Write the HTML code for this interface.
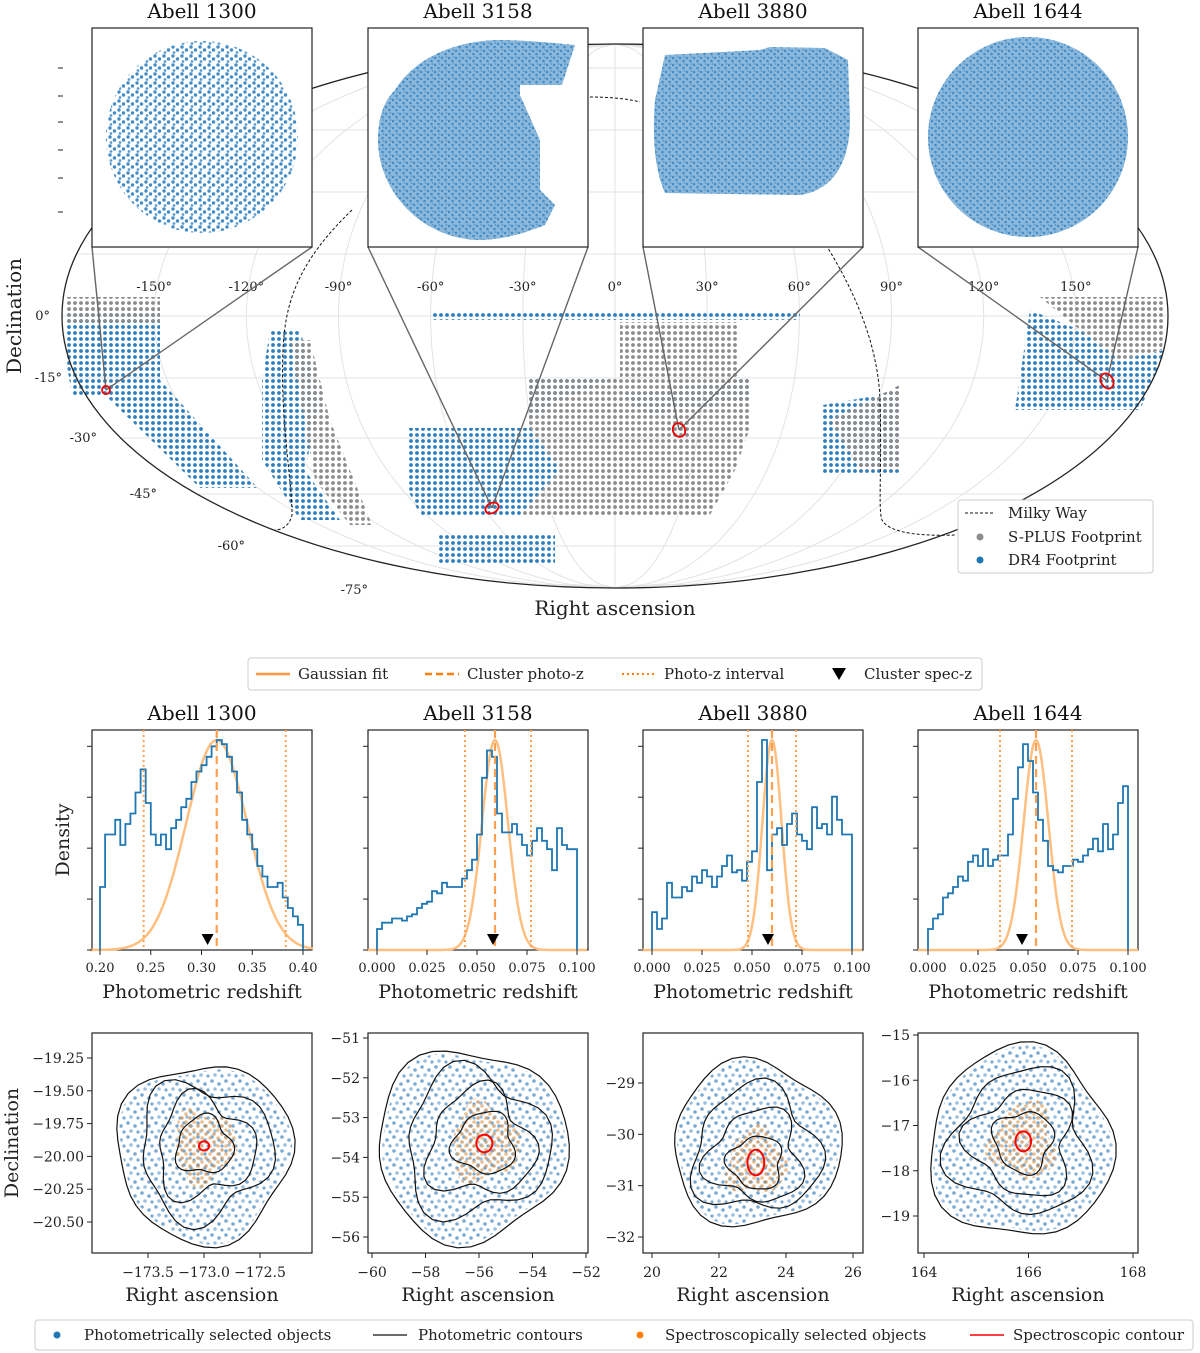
<!DOCTYPE html>
<html><head><meta charset="utf-8">
<style>
html,body{margin:0;padding:0;background:#fff}
svg{display:block;font-family:"DejaVu Serif","Liberation Serif",serif}
</style></head>
<body>
<svg id="fig" width="1200" height="1353" viewBox="0 0 1200 1353" xmlns="http://www.w3.org/2000/svg">
<defs>
<pattern id="pBlue" width="6" height="6" patternUnits="userSpaceOnUse"><circle cx="3" cy="3" r="1.9" fill="#2f7fbf"/></pattern>
<pattern id="pGray" width="6" height="6" patternUnits="userSpaceOnUse"><circle cx="3" cy="3" r="1.9" fill="#8c8c8c"/></pattern>
<pattern id="pDense" width="7" height="7" patternUnits="userSpaceOnUse"><rect width="7" height="7" fill="#7fb0d8"/><circle cx="1" cy="2" r="1.3" fill="#2f7fbf"/><circle cx="4.5" cy="5" r="1.3" fill="#2f7fbf"/><circle cx="5.5" cy="1" r="1" fill="#4a90c8"/></pattern>
<pattern id="pSparse" width="9" height="9" patternUnits="userSpaceOnUse"><circle cx="2" cy="2" r="1.7" fill="#2f7fbf"/><circle cx="6.5" cy="5" r="1.7" fill="#2f7fbf"/><circle cx="3" cy="7.5" r="1.4" fill="#4a90c8"/></pattern>
<pattern id="pScat" width="14" height="14" patternUnits="userSpaceOnUse"><circle cx="2" cy="3" r="1.8" fill="#7aaad2"/><circle cx="9" cy="6" r="1.8" fill="#7aaad2"/><circle cx="5" cy="11" r="1.8" fill="#9bbfdf"/><circle cx="12" cy="12" r="1.6" fill="#7aaad2"/></pattern>
<pattern id="pOrange" width="8" height="8" patternUnits="userSpaceOnUse"><circle cx="2" cy="2" r="1.8" fill="#e6a25a"/><circle cx="6" cy="6" r="1.8" fill="#c98a50"/></pattern>
</defs>
<g id="map"></g>
<g id="hists"></g>
<g id="scats"></g>
</svg>
<script>
const NS="http://www.w3.org/2000/svg";
function mk(parent,tag,attrs,text){const e=document.createElementNS(NS,tag);for(const k in attrs)e.setAttribute(k,attrs[k]);if(text!==undefined)e.textContent=text;parent.appendChild(e);return e;}

// ---------- Data ----------
const clusterNames=["Abell 1300","Abell 3158","Abell 3880","Abell 1644"];
const raTicks=[-150,-120,-90,-60,-30,0,30,60,90,120,150];
const decTicks=[0,-15,-30,-45,-60,-75];
const decTickY=[316,378,438,494,546,590];
const decLabelX=[50,62,97,157,245,368];
const histStart=[0.20,0.0,0.0,0.0];
const histBinW=[0.005,0.0025,0.0025,0.0025];
const hist1300=[0.30,0.55,0.55,0.62,0.50,0.60,0.65,0.75,0.86,0.70,0.55,0.50,0.55,0.48,0.58,0.62,0.68,0.72,0.80,0.85,0.88,0.92,0.97,1.0,0.98,0.92,0.85,0.75,0.62,0.55,0.48,0.40,0.35,0.30,0.30,0.32,0.25,0.20,0.16,0.12];
const hist3158=[0.10,0.13,0.13,0.15,0.15,0.14,0.16,0.17,0.20,0.22,0.23,0.28,0.27,0.32,0.30,0.30,0.30,0.34,0.38,0.43,0.55,0.82,0.95,0.92,0.65,0.56,0.56,0.60,0.55,0.50,0.45,0.52,0.58,0.52,0.48,0.38,0.58,0.50,0.48,0.48];
const hist3880=[0.18,0.10,0.15,0.32,0.25,0.25,0.30,0.28,0.35,0.32,0.38,0.35,0.30,0.35,0.40,0.45,0.37,0.38,0.33,0.42,0.47,0.80,1.0,0.38,0.55,0.58,0.50,0.60,0.65,0.55,0.52,0.48,0.68,0.58,0.60,0.55,0.73,0.62,0.55,0.55];
const hist1644=[0.10,0.15,0.17,0.25,0.27,0.30,0.35,0.33,0.42,0.45,0.40,0.48,0.40,0.43,0.45,0.45,0.55,0.72,0.87,0.98,0.90,0.75,0.62,0.52,0.40,0.38,0.37,0.40,0.40,0.43,0.42,0.45,0.48,0.53,0.47,0.60,0.48,0.55,0.70,0.78];
const gaussMean=[0.315,0.059,0.060,0.054];
const gaussSigma=[0.030,0.0065,0.0048,0.0062];
const intervalLo=[0.243,0.044,0.048,0.036];
const intervalHi=[0.383,0.077,0.072,0.072];
const specZ=[0.306,0.058,0.058,0.047];
const histXTicks=[[0.20,0.25,0.30,0.35,0.40],[0,0.025,0.05,0.075,0.1],[0,0.025,0.05,0.075,0.1],[0,0.025,0.05,0.075,0.1]];
const histXLabels=[["0.20","0.25","0.30","0.35","0.40"],["0.000","0.025","0.050","0.075","0.100"],["0.000","0.025","0.050","0.075","0.100"],["0.000","0.025","0.050","0.075","0.100"]];
const scXTicks=[[-173.5,-173.0,-172.5],[-60,-58,-56,-54,-52],[20,22,24,26],[164,166,168]];
const scXLabels=[["−173.5","−173.0","−172.5"],["−60","−58","−56","−54","−52"],["20","22","24","26"],["164","166","168"]];
const scYTicks=[[-19.25,-19.5,-19.75,-20.0,-20.25,-20.5],[-51,-52,-53,-54,-55,-56],[-29,-30,-31,-32],[-15,-16,-17,-18,-19]];
const scYLabels=[["−19.25","−19.50","−19.75","−20.00","−20.25","−20.50"],["−51","−52","−53","−54","−55","−56"],["−29","−30","−31","−32"],["−15","−16","−17","−18","−19"]];
const cloudRA=[-173.0,-56.3,23.1,165.85];
const cloudDec=[-19.97,-53.69,-30.2,-17.4];
const outerRadius=[[0.78,0.68],[3.55,2.4],[2.5,1.6],[1.75,2.1]];
const clusterRA=[-173.0,-55.8,23.1,165.9];
const clusterDec=[-19.92,-53.65,-30.55,-17.35];
const specRadius=[[0.045,0.035],[0.3,0.22],[0.25,0.25],[0.15,0.22]];

const panelX=[92,368,643,918];
const panelW=220;
const scXCal=[[-173.5,148,-172.5,260],[-60,372,-52,586],[20,652,26,853],[164,924,168,1133]];
const scYCal=[[-19.25,1058,-20.5,1222],[-51,1038,-56,1237],[-29,1083,-32,1237],[-15,1035,-19,1216]];
const histXCal=[[0.2,100,0.4,303],[0,377,0.1,577],[0,652,0.1,852],[0,928,0.1,1128]];

// ---------- Sky map ----------
const map=document.getElementById('map');
const cx=615,cy=316,rx=553,ry=272;
function decY(d){
  if(d>=0) return cy-(decTickY[1]-cy)*d/15;
  for(let i=0;i<decTicks.length-1;i++){if(d<=decTicks[i]&&d>=decTicks[i+1]){const t=(decTicks[i]-d)/15;return decTickY[i]+t*(decTickY[i+1]-decTickY[i]);}}
  return decTickY[5];
}
function halfW(y){const t=(y-cy)/ry;return t*t>=1?0:rx*Math.sqrt(1-t*t);}
function raX(ra,y){return cx+ra/180*halfW(y);}
for(const ra of [-150,-120,-90,-60,-30,0,30,60,90,120,150]){
  let d="";for(let y=cy-ry;y<=cy+ry;y+=4){d+=(d?"L":"M")+raX(ra,y).toFixed(1)+","+y;}
  const g=mk(map,'path',{d:d,fill:'none',stroke:'#e3e3e3','stroke-width':1});
  
}
for(let k=-75;k<=75;k+=15){const y=k<=0?decY(k):cy-(decTickY[1]-cy)*k/15;const w=halfW(y);
  const l=mk(map,'line',{x1:cx-w,x2:cx+w,y1:y,y2:y,stroke:'#e3e3e3','stroke-width':1});
  }
const grayPolys=[
 "66,297 160,297 160,322 66,322",
 "620,322 737,322 737,378 620,378",
 "527,378 750,378 750,428 527,428",
 "530,428 750,428 735,470 710,515 520,515 560,470",
 "290,340 310,340 330,420 350,470 372,525 350,525 315,480",
 "830,420 900,385 900,470 860,470",
 "1040,297 1165,297 1162,350 1120,360 1080,330"
];
const bluePolys=[
 "66,310 160,310 160,380 258,488 200,488 105,395 72,395 66,360",
 "432,313 800,313 800,320 432,320",
 "408,428 530,428 560,470 520,515 420,515 408,490",
 "527,378 620,378 560,400 527,420",
 "620,395 750,378 750,400 650,415",
 "437,535 555,535 555,565 437,565",
 "270,330 300,330 320,400 305,470 340,520 300,520 262,460 262,380",
 "823,405 880,395 900,385 900,475 823,475",
 "1030,310 1080,330 1120,360 1165,350 1140,410 1015,410"
];
for(const p of bluePolys){const e=mk(map,'polygon',{points:p,fill:'url(#pBlue)'});}
for(const p of grayPolys){const e=mk(map,'polygon',{points:p,fill:'url(#pGray)'});}
const bd=mk(map,'ellipse',{cx:cx,cy:cy,rx:rx,ry:ry,fill:'none',stroke:'#222','stroke-width':1.3});

const mw=mk(map,'path',{d:"M352,210 C300,260 285,300 283,350 C280,420 292,480 292,515 C290,525 282,530 275,530 M590,97 C605,97 625,98 640,102 M815,228 C850,280 878,340 880,400 C882,470 878,510 882,520 C890,535 930,536 955,535",fill:'none',stroke:'#111','stroke-width':1,'stroke-dasharray':'3,2'});

raTicks.forEach((ra)=>{const x=raX(ra,cy);const t=mk(map,'text',{x:x,y:291,'font-size':13,'text-anchor':'middle',fill:'#222'},(ra<0?"-":"")+Math.abs(ra)+"°");
 });
decTicks.forEach((d,i)=>{const y=decTickY[i];const t=mk(map,'text',{x:decLabelX[i],y:y+4,'font-size':13,'text-anchor':'end',fill:'#222'},(d<0?"-":"")+Math.abs(d)+"°");
 });
let t=mk(map,'text',{x:0,y:0,'font-size':20,'text-anchor':'middle',transform:'translate(21,316) rotate(-90)',fill:'#222'},"Declination");
t=mk(map,'text',{x:615,y:615,'font-size':20,'text-anchor':'middle',fill:'#222'},"Right ascension");
for(const y of [68,96,122,150,178,212]){const l=mk(map,'line',{x1:58,x2:63,y1:y,y2:y,stroke:'#222'});}
const markerPx=[[106,390],[492,508],[679,430],[1107,381]];
const markerR=[[4,4],[7,5],[6,7],[6,8]];
for(let i=0;i<4;i++){
  const x0=panelX[i],[mx,my]=markerPx[i];
  for(const xx of [x0,x0+panelW]){const l=mk(map,'line',{x1:xx,y1:247,x2:mx,y2:my,stroke:'#666','stroke-width':1.4});}
  const e=mk(map,'ellipse',{cx:mx,cy:my,rx:markerR[i][0],ry:markerR[i][1],fill:'none',stroke:'#e00','stroke-width':1.8,transform:`rotate(-30 ${mx} ${my})`});
  
}
const insetShapes=[
 {tag:'circle',a:{cx:202,cy:137,r:96},fill:'url(#pSparse)'},
 {tag:'path',a:{d:"M395,90 C420,50 470,40 500,40 C520,40 545,42 575,45 L562,85 L520,85 L520,95 L540,140 L540,190 L555,205 L545,225 C520,235 500,240 478,240 C420,238 378,190 378,140 C378,115 385,100 395,90 Z"},fill:'url(#pDense)'},
 {tag:'path',a:{d:"M665,55 L760,50 L770,47 L825,48 L848,60 L850,120 C850,160 835,190 800,195 L665,193 C655,170 652,140 655,100 Z"},fill:'url(#pDense)'},
 {tag:'circle',a:{cx:1028,cy:137,r:100},fill:'url(#pDense)'}
];
for(let i=0;i<4;i++){
  const x0=panelX[i];
  const bg=mk(map,'rect',{x:x0,y:28,width:panelW,height:219,fill:'#fff',stroke:'#222','stroke-width':1.2});
  
  const s=insetShapes[i];const a=Object.assign({},s.a,{fill:s.fill,opacity:0.9});
  const sh=mk(map,s.tag,a);
  const tt=mk(map,'text',{x:x0+110,y:18,'font-size':20,'text-anchor':'middle',fill:'#111'},clusterNames[i]);
  
}
const ml=mk(map,'g',{});
mk(ml,'rect',{x:958,y:500,width:195,height:73,fill:'#fff',stroke:'#ccc',rx:3});
mk(ml,'line',{x1:965,x2:995,y1:513,y2:513,stroke:'#111','stroke-dasharray':'3,2'});
mk(ml,'circle',{cx:980,cy:537,r:3.5,fill:'#8c8c8c'});
mk(ml,'circle',{cx:980,cy:560,r:3.5,fill:'#1f77b4'});
mk(ml,'text',{x:1008,y:518,'font-size':15,fill:'#222'},"Milky Way");
mk(ml,'text',{x:1008,y:542,'font-size':15,fill:'#222'},"S-PLUS Footprint");
mk(ml,'text',{x:1008,y:565,'font-size':15,fill:'#222'},"DR4 Footprint");

// ---------- Histograms ----------
const H=document.getElementById('hists');
const hl=mk(H,'g',{});
mk(hl,'rect',{x:248,y:658,width:734,height:32,fill:'#fff',stroke:'#ccc',rx:3});
mk(hl,'line',{x1:256,x2:290,y1:674,y2:674,stroke:'#ff7f0e','stroke-width':2.5,opacity:0.8});
mk(hl,'text',{x:298,y:679,'font-size':15,fill:'#222'},"Gaussian fit");
mk(hl,'line',{x1:425,x2:459,y1:674,y2:674,stroke:'#ff7f0e','stroke-width':2.5,'stroke-dasharray':'7,4'});
mk(hl,'text',{x:467,y:679,'font-size':15,fill:'#222'},"Cluster photo-z");
mk(hl,'line',{x1:622,x2:656,y1:674,y2:674,stroke:'#ff7f0e','stroke-width':2,'stroke-dasharray':'2,3'});
mk(hl,'text',{x:664,y:679,'font-size':15,fill:'#222'},"Photo-z interval");
mk(hl,'path',{d:"M832,668 L846,668 L839,680 Z",fill:'#000'});
mk(hl,'text',{x:864,y:679,'font-size':15,fill:'#222'},"Cluster spec-z");
const histData=[hist1300,hist3158,hist3880,hist1644];
const hTop=730,hBot=950,hScale=210;
for(let i=0;i<4;i++){
  const c=histXCal[i];const X=v=>c[1]+(v-c[0])/(c[2]-c[0])*(c[3]-c[1]);const Y=f=>hBot-f*hScale;
  const x0=panelX[i];
  const g=mk(H,'g',{});
  mk(g,'rect',{x:x0,y:hTop,width:panelW,height:hBot-hTop,fill:'none',stroke:'#222','stroke-width':1.2});
  let d="";const lo=c[0]-(c[2]-c[0])*0.05,hi=c[2]+(c[2]-c[0])*0.05;
  for(let k=0;k<=200;k++){const v=lo+(hi-lo)*k/200;const f=Math.exp(-0.5*((v-gaussMean[i])/gaussSigma[i])**2);d+=(k?"L":"M")+X(v).toFixed(1)+","+Y(f).toFixed(1);}
  const gp=mk(g,'path',{d:d,fill:'none',stroke:'#ffbf80','stroke-width':2.5});
  const arr=histData[i];const bw=histBinW[i],s0=histStart[i];
  d="M"+X(s0).toFixed(1)+","+hBot;
  arr.forEach((h,k)=>{d+="L"+X(s0+k*bw).toFixed(1)+","+Y(h).toFixed(1)+"L"+X(s0+(k+1)*bw).toFixed(1)+","+Y(h).toFixed(1);});
  d+="L"+X(s0+arr.length*bw).toFixed(1)+","+hBot;
  const sp=mk(g,'path',{d:d,fill:'none',stroke:'#1f77b4','stroke-width':1.8});
  for(const v of [intervalLo[i],intervalHi[i]]){const l=mk(g,'line',{x1:X(v),x2:X(v),y1:hTop,y2:hBot,stroke:'#ffa050','stroke-width':2,'stroke-dasharray':'2,3'});}
  const ml2=mk(g,'line',{x1:X(gaussMean[i]),x2:X(gaussMean[i]),y1:hTop,y2:hBot,stroke:'#ffa050','stroke-width':2.2,'stroke-dasharray':'8,5'});
  const sx=X(specZ[i]);const tri=mk(g,'path',{d:`M${sx-6},934 L${sx+6},934 L${sx},945 Z`,fill:'#000'});
  histXTicks[i].forEach((v,k)=>{mk(g,'line',{x1:X(v),x2:X(v),y1:hBot,y2:hBot+5,stroke:'#222'});
    const tl=mk(g,'text',{x:X(v),y:hBot+22,'font-size':13,'text-anchor':'middle',fill:'#222'},histXLabels[i][k]);});
  for(const f of [0.0,0.25,0.5,0.75,1.0]){mk(g,'line',{x1:x0-5,x2:x0,y1:Y(f*0.97),y2:Y(f*0.97),stroke:'#222'});}
  const tt=mk(g,'text',{x:x0+110,y:720,'font-size':20,'text-anchor':'middle',fill:'#111'},clusterNames[i]);
  const xt=mk(g,'text',{x:x0+110,y:998,'font-size':19,'text-anchor':'middle',fill:'#222'},"Photometric redshift");
}
t=mk(H,'text',{x:0,y:0,'font-size':19,'text-anchor':'middle',transform:'translate(69,840) rotate(-90)',fill:'#222'},"Density");

// ---------- Scatter panels ----------
const S=document.getElementById('scats');
const sTop=1033,sBot=1253;
function blob(X,Y,cxv,cyv,rxv,ryv,wob,ph){let d="";for(let k=0;k<=48;k++){const a=k/48*2*Math.PI;const r=1+wob*Math.sin(3*a+ph)+wob*0.6*Math.cos(5*a+ph*2);
  d+=(k?"L":"M")+X(cxv+rxv*r*Math.cos(a)).toFixed(1)+","+Y(cyv+ryv*r*Math.sin(a)).toFixed(1);}return d+"Z";}
for(let i=0;i<4;i++){
  const cxl=scXCal[i],cyl=scYCal[i];
  const X=v=>cxl[1]+(v-cxl[0])/(cxl[2]-cxl[0])*(cxl[3]-cxl[1]);
  const Y=v=>cyl[1]+(v-cyl[0])/(cyl[2]-cyl[0])*(cyl[3]-cyl[1]);
  const x0=panelX[i];
  const g=mk(S,'g',{});
  mk(g,'rect',{x:x0,y:sTop,width:panelW,height:sBot-sTop,fill:'#fff',stroke:'#222','stroke-width':1.2});
  const cr=cloudRA[i],cd=cloudDec[i],[orx,ory]=outerRadius[i];
  const cl=mk(g,'path',{d:blob(X,Y,cr,cd,orx*0.97,ory*0.97,0.06,i),fill:'url(#pScat)'});
  const kr=clusterRA[i],kd=clusterDec[i];
  const oc=mk(g,'path',{d:blob(X,Y,kr,kd,orx*0.35,ory*0.4,0.15,i+1),fill:'url(#pOrange)',opacity:0.7});
  [[1,0.06,cr,cd],[0.75,0.14,(cr*2+kr)/3,(cd*2+kd)/3],[0.55,0.17,(cr+kr*2)/3,(cd+kd*2)/3],[0.32,0.12,kr,kd]].forEach(([s,w,ccx,ccy],k)=>{
    const p=mk(g,'path',{d:blob(X,Y,ccx,ccy,orx*s,ory*s,w,i+k),fill:'none',stroke:'#111','stroke-width':1.2});});
  const rr=mk(g,'path',{d:blob(X,Y,kr,kd,specRadius[i][0],specRadius[i][1],0,0),fill:'none',stroke:'#f00','stroke-width':2});
  scXTicks[i].forEach((v,k)=>{mk(g,'line',{x1:X(v),x2:X(v),y1:sBot,y2:sBot+5,stroke:'#222'});
    const tl=mk(g,'text',{x:X(v),y:sBot+24,'font-size':14,'text-anchor':'middle',fill:'#222'},scXLabels[i][k]);});
  scYTicks[i].forEach((v,k)=>{mk(g,'line',{x1:x0-5,x2:x0,y1:Y(v),y2:Y(v),stroke:'#222'});
    const tl=mk(g,'text',{x:x0-8,y:Y(v)+5,'font-size':14,'text-anchor':'end',fill:'#222'},scYLabels[i][k]);});
  const xt=mk(g,'text',{x:x0+110,y:1301,'font-size':19,'text-anchor':'middle',fill:'#222'},"Right ascension");
}
t=mk(S,'text',{x:0,y:0,'font-size':19,'text-anchor':'middle',transform:'translate(18,1143) rotate(-90)',fill:'#222'},"Declination");
const bl=mk(S,'g',{});
mk(bl,'rect',{x:35,y:1320,width:1158,height:30,fill:'#fff',stroke:'#ccc',rx:3});
mk(bl,'circle',{cx:57,cy:1335,r:3.5,fill:'#1f77b4'});
mk(bl,'text',{x:84,y:1340,'font-size':15,fill:'#222'},"Photometrically selected objects");
mk(bl,'line',{x1:373,x2:407,y1:1335,y2:1335,stroke:'#111','stroke-width':1.2});
mk(bl,'text',{x:418,y:1340,'font-size':15,fill:'#222'},"Photometric contours");
mk(bl,'circle',{cx:640,cy:1335,r:3.5,fill:'#ff7f0e'});
mk(bl,'text',{x:665,y:1340,'font-size':15,fill:'#222'},"Spectroscopically selected objects");
mk(bl,'line',{x1:970,x2:1004,y1:1335,y2:1335,stroke:'#f00','stroke-width':1.5});
mk(bl,'text',{x:1013,y:1340,'font-size':15,fill:'#222'},"Spectroscopic contour");
</script>
</body></html>
